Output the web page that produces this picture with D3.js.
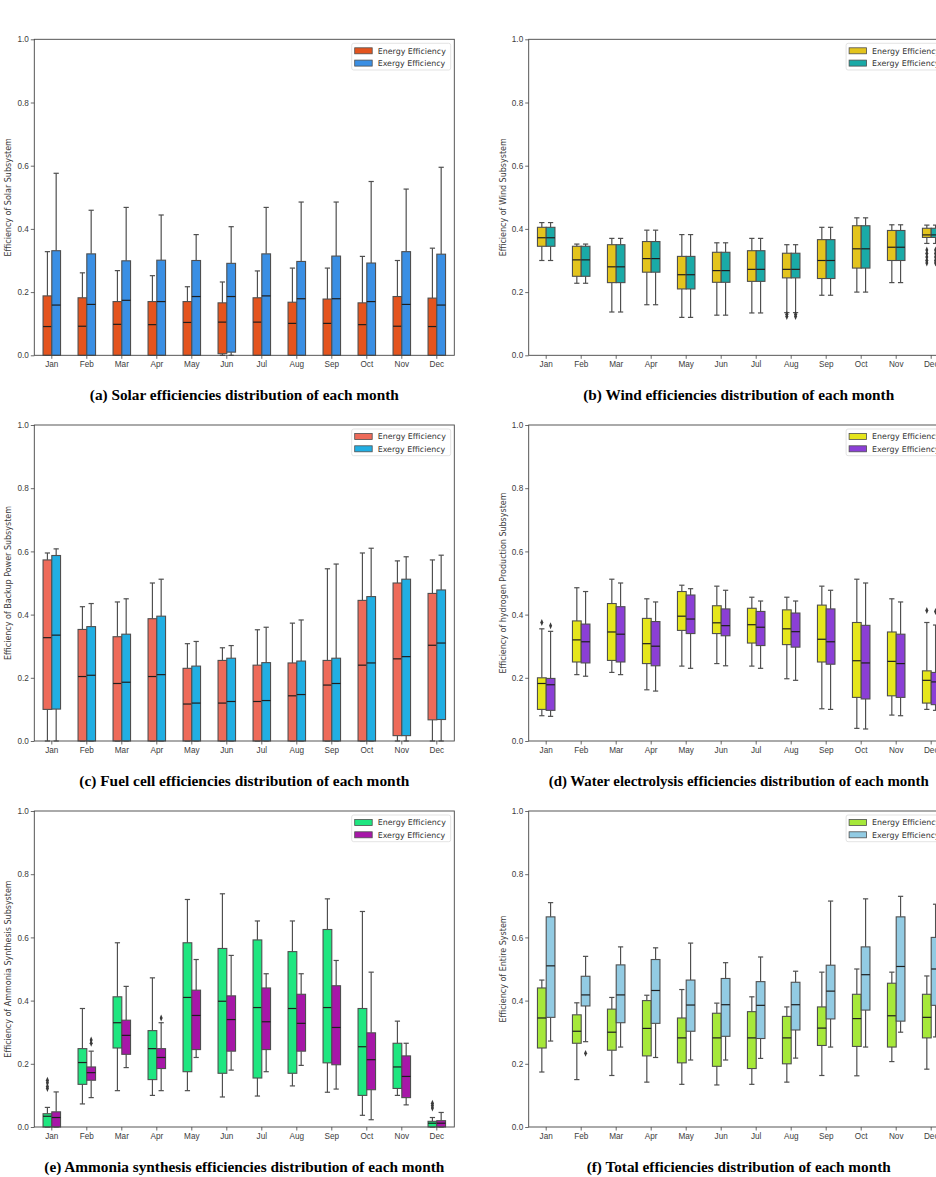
<!DOCTYPE html>
<html><head><meta charset="utf-8">
<script src="https://cdn.jsdelivr.net/npm/d3@7"></script>
<style>body{margin:0;background:#fff;}svg{display:block;}</style>
</head><body>
<script>
const months = ['Jan','Feb','Mar','Apr','May','Jun','Jul','Aug','Sep','Oct','Nov','Dec'];
const yTicks = [0,0.2,0.4,0.6,0.8,1.0];
const seriesNames = ['Energy Efficiency','Exergy Efficiency'];
// each row: [whiskerLow, q1, median, q3, whiskerHigh]
const solarEnergy = [[0,0,0.091,0.188,0.328],[0,0,0.092,0.182,0.261],[0,0,0.098,0.170,0.268],[0,0,0.097,0.170,0.252],[0,0,0.104,0.170,0.217],[0,0.005,0.105,0.166,0.232],[0,0,0.105,0.182,0.267],[0,0,0.101,0.168,0.276],[0,0,0.101,0.178,0.276],[0,0,0.097,0.166,0.313],[0,0,0.092,0.186,0.300],[0,0,0.091,0.181,0.339]];
const solarExergy = [[0,0,0.159,0.331,0.576],[0,0,0.161,0.321,0.459],[0,0,0.174,0.299,0.468],[0,0,0.170,0.301,0.444],[0,0,0.186,0.300,0.382],[0,0.010,0.186,0.291,0.407],[0,0,0.188,0.321,0.468],[0,0,0.179,0.297,0.485],[0,0,0.179,0.314,0.485],[0,0,0.170,0.292,0.550],[0,0,0.161,0.328,0.526],[0,0,0.159,0.320,0.595]];
const windEnergy = [[0.300,0.345,0.372,0.405,0.420],[0.228,0.250,0.302,0.345,0.352],[0.137,0.230,0.280,0.350,0.370],[0.160,0.263,0.306,0.360,0.396],[0.120,0.210,0.255,0.313,0.382],[0.127,0.231,0.268,0.326,0.356],[0.134,0.234,0.272,0.331,0.370],[0.135,0.245,0.272,0.323,0.350],[0.190,0.243,0.300,0.366,0.405],[0.200,0.276,0.337,0.410,0.435],[0.230,0.300,0.342,0.395,0.413],[0.354,0.373,0.381,0.402,0.412]];
const windExergy = [[0.300,0.345,0.372,0.405,0.420],[0.228,0.250,0.302,0.345,0.352],[0.137,0.230,0.280,0.350,0.370],[0.160,0.263,0.306,0.360,0.396],[0.120,0.210,0.255,0.313,0.382],[0.127,0.231,0.268,0.326,0.356],[0.134,0.234,0.272,0.331,0.370],[0.135,0.245,0.272,0.323,0.350],[0.190,0.243,0.300,0.366,0.405],[0.200,0.276,0.337,0.410,0.435],[0.230,0.300,0.342,0.395,0.413],[0.354,0.373,0.381,0.402,0.412]];
const fuelEnergy = [[0,0.100,0.327,0.573,0.595],[0,0,0.204,0.353,0.425],[0,0,0.182,0.330,0.440],[0,0,0.204,0.387,0.500],[0,0,0.117,0.230,0.308],[0,0,0.120,0.255,0.295],[0,0,0.125,0.240,0.352],[0,0,0.143,0.247,0.373],[0,0,0.177,0.255,0.545],[0,0,0.240,0.445,0.595],[0,0.017,0.260,0.500,0.570],[0,0.067,0.303,0.467,0.573]];
const fuelExergy = [[0,0.101,0.335,0.587,0.608],[0,0,0.208,0.362,0.435],[0,0,0.186,0.338,0.450],[0,0,0.210,0.395,0.512],[0,0,0.120,0.237,0.315],[0,0,0.125,0.262,0.302],[0,0,0.128,0.248,0.360],[0,0,0.147,0.253,0.383],[0,0,0.182,0.262,0.560],[0,0,0.247,0.457,0.610],[0,0.017,0.267,0.512,0.583],[0,0.068,0.310,0.478,0.588]];
const elecEnergy = [[0.080,0.100,0.182,0.200,0.355],[0.210,0.250,0.320,0.380,0.485],[0.217,0.255,0.345,0.435,0.512],[0.162,0.245,0.308,0.388,0.450],[0.237,0.350,0.395,0.473,0.493],[0.245,0.340,0.374,0.428,0.490],[0.237,0.310,0.368,0.420,0.455],[0.197,0.305,0.355,0.415,0.455],[0.102,0.250,0.322,0.430,0.490],[0.040,0.138,0.254,0.375,0.512],[0.082,0.143,0.252,0.345,0.450],[0.100,0.120,0.192,0.222,0.375]];
const elecExergy = [[0.078,0.097,0.178,0.198,0.347],[0.205,0.247,0.314,0.370,0.473],[0.210,0.250,0.338,0.425,0.500],[0.158,0.238,0.300,0.378,0.440],[0.230,0.340,0.386,0.462,0.482],[0.238,0.333,0.365,0.418,0.477],[0.230,0.302,0.360,0.410,0.443],[0.192,0.297,0.346,0.405,0.443],[0.100,0.243,0.314,0.418,0.477],[0.038,0.133,0.247,0.366,0.500],[0.080,0.138,0.245,0.338,0.440],[0.097,0.115,0.187,0.217,0.367]];
const ammoniaEnergy = [[0,0,0.034,0.042,0.062],[0.073,0.135,0.204,0.248,0.375],[0.115,0.250,0.330,0.412,0.583],[0.100,0.150,0.248,0.305,0.472],[0.115,0.175,0.410,0.583,0.720],[0.095,0.170,0.398,0.565,0.738],[0.098,0.155,0.378,0.592,0.652],[0.130,0.170,0.375,0.555,0.652],[0.110,0.203,0.378,0.625,0.722],[0.037,0.100,0.254,0.375,0.682],[0.100,0.122,0.190,0.265,0.335],[0,0,0.012,0.018,0.030]];
const ammoniaExergy = [[0,0,0.030,0.048,0.111],[0.093,0.148,0.172,0.190,0.240],[0.188,0.230,0.290,0.338,0.445],[0.115,0.185,0.220,0.248,0.330],[0.220,0.245,0.353,0.433,0.530],[0.180,0.240,0.340,0.415,0.543],[0.175,0.245,0.333,0.440,0.485],[0.195,0.240,0.328,0.420,0.485],[0.120,0.197,0.315,0.447,0.527],[0.023,0.118,0.213,0.298,0.490],[0.070,0.093,0.160,0.225,0.265],[0,0,0.012,0.020,0.046]];
const totalEnergy = [[0.174,0.250,0.345,0.440,0.465],[0.150,0.265,0.303,0.355,0.393],[0.163,0.243,0.300,0.373,0.410],[0.142,0.225,0.312,0.400,0.417],[0.135,0.203,0.282,0.345,0.435],[0.133,0.192,0.282,0.360,0.392],[0.135,0.185,0.282,0.365,0.412],[0.142,0.200,0.282,0.350,0.380],[0.163,0.258,0.313,0.380,0.490],[0.162,0.255,0.343,0.420,0.500],[0.207,0.253,0.352,0.455,0.490],[0.183,0.282,0.347,0.420,0.478]];
const totalExergy = [[0.272,0.347,0.510,0.665,0.710],[0.270,0.383,0.418,0.477,0.540],[0.253,0.330,0.418,0.513,0.570],[0.220,0.328,0.432,0.530,0.567],[0.212,0.303,0.386,0.465,0.582],[0.212,0.287,0.387,0.470,0.520],[0.217,0.280,0.385,0.460,0.538],[0.218,0.307,0.387,0.458,0.493],[0.253,0.342,0.430,0.512,0.715],[0.253,0.370,0.482,0.570,0.722],[0.300,0.335,0.508,0.665,0.730],[0.285,0.385,0.500,0.600,0.705]];
// outliers: [monthIndex, value]
const windEnergyOut = [[7,0.130],[7,0.123],[11,0.333],[11,0.322],[11,0.311],[11,0.300],[11,0.292]];
const windExergyOut = [[7,0.130],[7,0.123],[11,0.333],[11,0.322],[11,0.311],[11,0.300],[11,0.292]];
const elecEnergyOut = [[0,0.375],[11,0.413]];
const elecExergyOut = [[0,0.365],[11,0.410]];
const ammoniaEnergyOut = [[0,0.148],[0,0.140],[0,0.128],[0,0.122],[11,0.075],[11,0.068],[11,0.060]];
const ammoniaExergyOut = [[1,0.275],[1,0.265],[3,0.345]];
const totalExergyOut = [[1,0.233]];

const panels = [
  {left:34.3, top:39.3, e:solarEnergy, x:solarExergy, eo:[], xo:[], colors:['#e4541e','#3a8fe4'], ylabel:'Efficiency of Solar Subsystem', caption:'(a) Solar efficiencies distribution of each month', capW:309},
  {left:528.7, top:39.3, e:windEnergy, x:windExergy, eo:windEnergyOut, xo:windExergyOut, colors:['#e3c41d','#1aaaa7'], ylabel:'Efficiency of Wind Subsystem', caption:'(b) Wind efficiencies distribution of each month', capW:311},
  {left:34.3, top:425, e:fuelEnergy, x:fuelExergy, eo:[], xo:[], colors:['#ee6b5a','#21aee3'], ylabel:'Efficiency of Backup Power Subsystem', caption:'(c) Fuel cell efficiencies distribution of each month', capW:330},
  {left:528.7, top:425, e:elecEnergy, x:elecExergy, eo:elecEnergyOut, xo:elecExergyOut, colors:['#e5e51c','#8b3fd6'], ylabel:'Efficiency of hydrogen Production Subsystem', caption:'(d) Water electrolysis efficiencies distribution of each month', capW:380},
  {left:34.3, top:811, e:ammoniaEnergy, x:ammoniaExergy, eo:ammoniaEnergyOut, xo:ammoniaExergyOut, colors:['#1fe680','#a717a8'], ylabel:'Efficiency of Ammonia Synthesis Subsystem', caption:'(e) Ammonia synthesis efficiencies distribution of each month', capW:400},
  {left:528.7, top:811, e:totalEnergy, x:totalExergy, eo:[], xo:totalExergyOut, colors:['#a6e83a','#92cbe3'], ylabel:'Efficiency of Entire System', caption:'(f) Total efficiencies distribution of each month', capW:304}
];

const W = 936, H = 1177, PW = 420, PH = 316;
const svg = d3.select('body').append('svg').attr('width',W).attr('height',H)
  .style('font-family','"DejaVu Sans", sans-serif');

const edge = '#4f4f4f';
panels.forEach(p => {
  const g = svg.append('g').attr('transform',`translate(${p.left},${p.top})`);
  const y = d3.scaleLinear().domain([0,1]).range([PH,0]);
  const x = d3.scaleBand().domain(months).range([0,PW]);
  const bw = x.bandwidth()*0.25;
  const hue = d3.scaleBand().domain(seriesNames).range([-bw, bw]);

  // axes
  const ya = g.append('g').call(d3.axisLeft(y).tickValues(yTicks).tickFormat(d3.format('.1f')).tickSize(3.5).tickPadding(2));
  const xa = g.append('g').attr('transform',`translate(0,${PH})`).call(d3.axisBottom(x).tickSize(3.5).tickPadding(2.5));
  [ya,xa].forEach(a => {
    a.select('.domain').remove();
    a.selectAll('line').attr('stroke','#444').attr('stroke-width',0.8);
    a.selectAll('text').attr('fill','#3c3c3c').style('font-size','8.2px');
  });

  // boxes
  [[p.e,p.eo,0],[p.x,p.xo,1]].forEach(([data,outs,si]) => {
    const gs = g.append('g');
    const x0 = m => x(m) + x.bandwidth()/2 + hue(seriesNames[si]);
    const xc = m => x0(m) + bw/2;
    const rows = data.map((d,i)=>({m:months[i], lo:d[0], q1:d[1], med:d[2], q3:d[3], hi:d[4]}));
    const grp = gs.selectAll('g.b').data(rows).join('g');
    grp.append('line').attr('x1',d=>xc(d.m)).attr('x2',d=>xc(d.m)).attr('y1',d=>y(d.q3)).attr('y2',d=>y(d.hi)).attr('stroke',edge).attr('stroke-width',1.2);
    grp.append('line').attr('x1',d=>xc(d.m)).attr('x2',d=>xc(d.m)).attr('y1',d=>y(d.q1)).attr('y2',d=>y(d.lo)).attr('stroke',edge).attr('stroke-width',1.2);
    grp.append('line').attr('x1',d=>xc(d.m)-bw*0.3).attr('x2',d=>xc(d.m)+bw*0.3).attr('y1',d=>y(d.hi)).attr('y2',d=>y(d.hi)).attr('stroke',edge).attr('stroke-width',1.2);
    grp.append('line').attr('x1',d=>xc(d.m)-bw*0.3).attr('x2',d=>xc(d.m)+bw*0.3).attr('y1',d=>y(d.lo)).attr('y2',d=>y(d.lo)).attr('stroke',edge).attr('stroke-width',1.2);
    grp.append('rect').attr('x',d=>x0(d.m)).attr('width',bw).attr('y',d=>y(d.q3)).attr('height',d=>Math.max(0,y(d.q1)-y(d.q3)))
      .attr('fill',p.colors[si]).attr('stroke',edge).attr('stroke-width',1.1);
    grp.append('line').attr('x1',d=>x0(d.m)).attr('x2',d=>x0(d.m)+bw).attr('y1',d=>y(d.med)).attr('y2',d=>y(d.med)).attr('stroke','#1e1e1e').attr('stroke-width',1.2);
    gs.selectAll('path.o').data(outs).join('path')
      .attr('d', d3.symbol(d3.symbolDiamond, 14))
      .attr('transform', d=>`translate(${xc(months[d[0]])},${y(d[1])}) scale(0.75,1)`)
      .attr('fill','#3a3a3a');
  });

  // frame
  g.append('rect').attr('width',PW).attr('height',PH).attr('fill','none').attr('stroke','#444').attr('stroke-width',0.9);

  // y label
  g.append('text').attr('transform',`translate(-26,${PH/2}) rotate(-90)`).attr('text-anchor','middle')
    .attr('dy','0.35em').attr('fill','#3c3c3c').style('font-size','8px').text(p.ylabel);

  // legend
  const lg = g.append('g').attr('transform','translate(317.4,4)');
  lg.append('rect').attr('width',99).attr('height',26.7).attr('rx',2).attr('fill','#fff').attr('fill-opacity',0.8).attr('stroke','#dcdcdc').attr('stroke-width',0.8);
  seriesNames.forEach((s,i) => {
    lg.append('rect').attr('x',3).attr('y',7.5+i*12.3-3).attr('width',17.5).attr('height',6)
      .attr('fill',p.colors[i]).attr('stroke',edge).attr('stroke-width',0.8);
    lg.append('text').attr('x',26).attr('y',7.5+i*12.3).attr('dy','0.35em').attr('fill','#333')
      .style('font-size','7.9px').text(s);
  });

  // caption
  g.append('text').attr('x',PW/2).attr('y',PH+44.5).attr('text-anchor','middle')
    .style('font-family','"Liberation Serif", "Times New Roman", serif').style('font-weight','bold').style('font-size','14px')
    .attr('textLength',p.capW).attr('lengthAdjust','spacingAndGlyphs').attr('fill','#000').text(p.caption);
});
</script>
</body></html>
